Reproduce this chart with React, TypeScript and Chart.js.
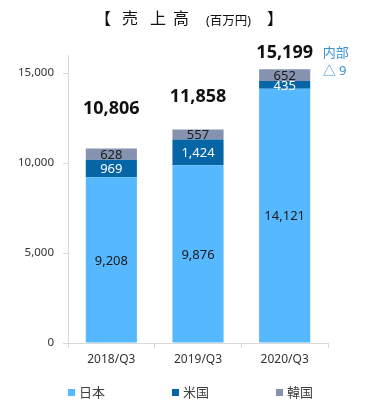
import React, { useEffect, useRef } from "react";
import { Chart, registerables } from "chart.js";

Chart.register(...registerables);

const categories = ["2018/Q3", "2019/Q3", "2020/Q3"];
const japan = [9208, 9876, 14121];
const usa = [969, 1424, 435];
const korea = [628, 557, 652];
const totals = ["10,806", "11,858", "15,199"];
// value-space anchors for the total labels above each bar
const totalAnchors = [13000, 13650, 16100];
const seriesNames = ["日本", "米国", "韓国"];
const seriesColors = ["#56B8FF", "#0565A5", "#8593B0"];
const labelColors = ["#1a1a1a", "#ffffff", "#1a1a1a"];
const yTicks = [0, 5000, 10000, 15000];
const titleParts = [
  { text: "【", left: 95, size: 16, top: 6 },
  { text: "売", left: 122, size: 16, top: 6 },
  { text: "上", left: 150, size: 16, top: 6 },
  { text: "高", left: 173, size: 16, top: 6 },
  { text: "(百万円)", left: 206, size: 12.5, top: 9 },
  { text: "】", left: 267, size: 16, top: 6 },
];

const FONT = "'Noto Sans', 'Noto Sans CJK JP', sans-serif";

const labelPlugin = {
  id: "labels",
  afterDatasetsDraw(chart: any) {
    const ctx = chart.ctx;
    const y = chart.scales.y;
    ctx.save();
    ctx.textAlign = "center";
    ctx.textBaseline = "middle";
    chart.data.datasets.forEach((ds: any, di: number) => {
      const meta = chart.getDatasetMeta(di);
      meta.data.forEach((bar: any, i: number) => {
        const v = ds.data[i];
        const mid = (bar.y + bar.base) / 2;
        ctx.font = `13px ${FONT}`;
        ctx.fillStyle = labelColors[di];
        ctx.fillText(v.toLocaleString("en-US"), bar.x, mid + 1);
      });
    });
    const meta0 = chart.getDatasetMeta(0);
    meta0.data.forEach((bar: any, i: number) => {
      ctx.font = `bold 18px ${FONT}`;
      ctx.fillStyle = "#111";
      ctx.fillText(totals[i], bar.x, y.getPixelForValue(totalAnchors[i]));
    });
    // note next to last bar
    const last = meta0.data[2];
    ctx.font = `13px ${FONT}`;
    ctx.fillStyle = "#3A92D4";
    ctx.textAlign = "left";
    ctx.fillText("内部", last.x + 38, y.getPixelForValue(16100));
    ctx.fillText("△ 9", last.x + 38, y.getPixelForValue(15100));
    ctx.restore();
  },
};

export default function App() {
  const ref = useRef<HTMLCanvasElement>(null);
  useEffect(() => {
    const seriesData = [japan, usa, korea];
    const chart = new Chart(ref.current as HTMLCanvasElement, {
      type: "bar",
      data: {
        labels: categories,
        datasets: seriesData.map((d, i) => ({
          label: seriesNames[i],
          data: d,
          backgroundColor: seriesColors[i],
          borderWidth: 0,
          barPercentage: 0.59,
          categoryPercentage: 1,
        })),
      },
      options: {
        animation: false,
        responsive: false,
        maintainAspectRatio: false,
        layout: { padding: { top: 55, right: 47, bottom: 47, left: 0 } },
        plugins: {
          legend: { display: false },
          tooltip: { enabled: false },
          title: { display: false },
        },
        scales: {
          x: {
            stacked: true,
            grid: {
              display: true,
              drawOnChartArea: false,
              drawTicks: true,
              tickLength: 5,
              color: "#D9D9D9",
              offset: true,
            },
            border: { display: true, color: "#D9D9D9" },
            ticks: {
              color: "#333",
              font: { size: 12, family: FONT },
              padding: 4,
              maxRotation: 0,
            },
            afterFit: (s: any) => {
              s.height = 30;
            },
          },
          y: {
            stacked: true,
            min: 0,
            max: 16000,
            grid: {
              display: true,
              drawOnChartArea: false,
              drawTicks: true,
              tickLength: 5,
              color: "#D9D9D9",
            },
            border: { display: true, color: "#D9D9D9" },
            afterBuildTicks: (s: any) => {
              s.ticks = yTicks.map((v) => ({ value: v }));
            },
            ticks: {
              color: "#333",
              font: { size: 11.5, family: FONT },
              padding: 9,
              callback: (v: any) => Number(v).toLocaleString("en-US"),
            },
            afterFit: (s: any) => {
              s.width = 68;
            },
          },
        },
      },
      plugins: [labelPlugin],
    });
    return () => chart.destroy();
  }, []);

  return (
    <div
      style={{
        position: "fixed",
        left: 0,
        top: 0,
        width: 375,
        height: 420,
        background: "#fff",
        fontFamily: FONT,
      }}
    >
      <canvas ref={ref} width={375} height={420} style={{ position: "absolute", left: 0, top: 0 }} />
      {titleParts.map((p) => (
        <span
          key={p.text}
          style={{
            position: "absolute",
            left: p.left,
            top: p.top,
            height: 24,
            lineHeight: "24px",
            fontSize: p.size,
            color: "#111",
            whiteSpace: "pre",
          }}
        >
          {p.text}
        </span>
      ))}
      {seriesNames.map((n, i) => (
        <div
          key={n}
          style={{
            position: "absolute",
            left: 68 + i * 104,
            top: 383,
            display: "flex",
            alignItems: "center",
            fontSize: 13,
            color: "#404040",
            lineHeight: "18px",
          }}
        >
          <span
            style={{
              display: "inline-block",
              width: 7,
              height: 7,
              background: seriesColors[i],
              marginRight: 4,
            }}
          />
          <span>{n}</span>
        </div>
      ))}
    </div>
  );
}
